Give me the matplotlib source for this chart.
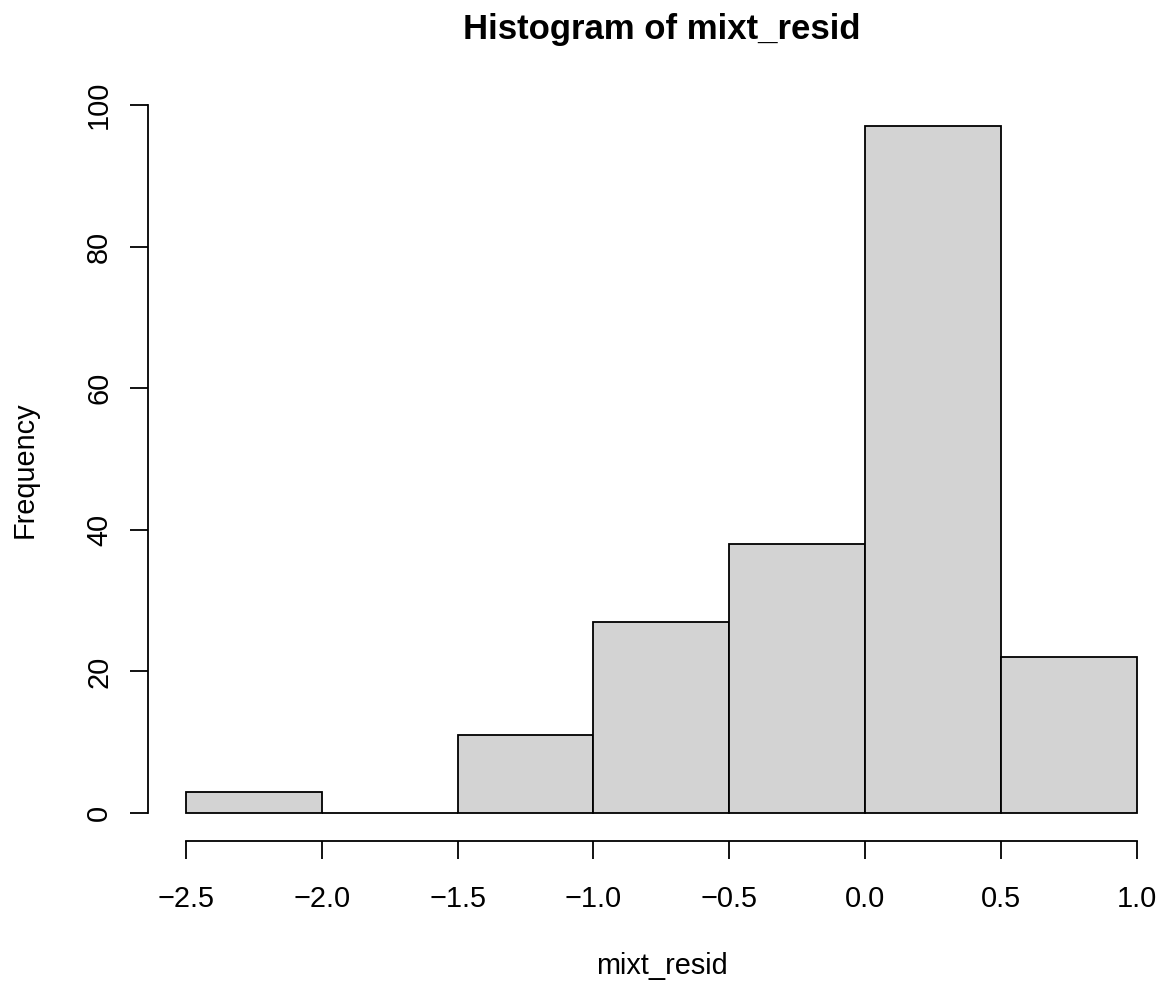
import matplotlib
matplotlib.use("Agg")
import matplotlib.pyplot as plt

# Data
breaks = [-2.5, -2.0, -1.5, -1.0, -0.5, 0.0, 0.5, 1.0]
counts = [3, 0, 11, 27, 38, 97, 22]
xticks = [-2.5, -2.0, -1.5, -1.0, -0.5, 0.0, 0.5, 1.0]
xticklabels = ["\u22122.5", "\u22122.0", "\u22121.5", "\u22121.0", "\u22120.5", "0.0", "0.5", "1.0"]
yticks = [0, 20, 40, 60, 80, 100]
title = "Histogram of mixt_resid"
xlabel = "mixt_resid"
ylabel = "Frequency"

plt.rcParams['font.family'] = ['Liberation Sans', 'DejaVu Sans']
W, H = 1163, 982
fig = plt.figure(figsize=(W / 100, H / 100), dpi=100)

px_per_unit = (1136.7 - 186) / 3.5
left_px, right_px = 148, 1150
bot_px, top_px = 840.5, 98.8
ax = fig.add_axes([left_px / W, 1 - bot_px / H, (right_px - left_px) / W, (bot_px - top_px) / H])
ax.set_xlim(-2.5 - (186 - left_px) / px_per_unit, -2.5 + (right_px - 186) / px_per_unit)
ax.set_ylim(-3.88, 100.88)

lw = 1.3
widths = [breaks[i + 1] - breaks[i] for i in range(len(counts))]
ax.bar(breaks[:-1], counts, width=widths, align='edge', color='#D3D3D3',
       edgecolor='black', linewidth=lw)

for s in ['top', 'right']:
    ax.spines[s].set_visible(False)
ax.spines['left'].set_bounds(0, 100)
ax.spines['bottom'].set_bounds(-2.5, 1.0)
ax.spines['left'].set_linewidth(lw)
ax.spines['bottom'].set_linewidth(lw)

fs = 20.8
ax.set_xticks(xticks)
ax.set_xticklabels(xticklabels, fontsize=fs)
ax.set_yticks(yticks)
ax.set_yticklabels([str(v) for v in yticks], fontsize=fs, rotation=90, va='center')
ax.tick_params(axis='both', direction='out', length=13, width=lw)
ax.tick_params(axis='x', pad=19.2)
ax.tick_params(axis='y', pad=12.2)

fig.text(661.5 / W, 1 - 39 / H, title, fontsize=25, fontweight='bold',
         ha='center', va='baseline')
fig.text(661.5 / W, 1 - 974 / H, xlabel, fontsize=fs, ha='center', va='baseline')
fig.text(33 / W, 1 - 469.7 / H, ylabel, fontsize=fs, ha='center', va='baseline',
         rotation=90, rotation_mode='anchor')

fig.savefig("out.png", dpi=100, facecolor='white')
